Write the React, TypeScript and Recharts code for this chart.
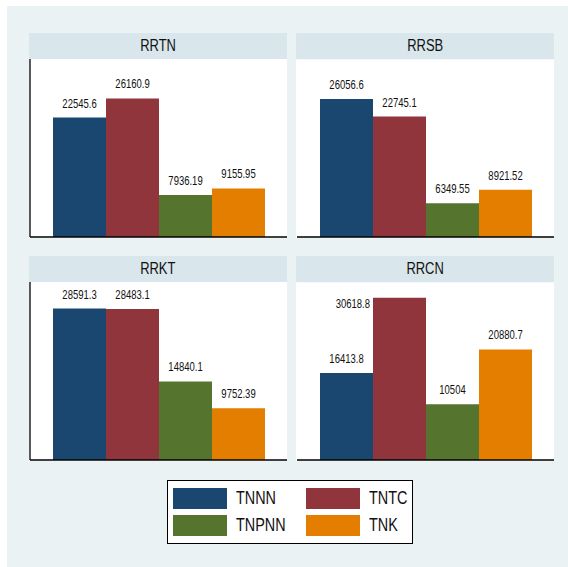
import React from "react";
import { BarChart, Bar, XAxis, YAxis, CartesianGrid, LabelList } from "recharts";

const series = ["TNNN", "TNTC", "TNPNN", "TNK"];
const colors = ["#1a476f", "#90353b", "#55752f", "#e37e00"];

const panels = ["RRTN", "RRSB", "RRKT", "RRCN"];
const rrtn = [22545.6, 26160.9, 7936.19, 9155.95];
const rrsb = [26056.6, 22745.1, 6349.55, 8921.52];
const rrkt = [28591.3, 28483.1, 14840.1, 9752.39];
const rrcn = [16413.8, 30618.8, 10504, 20880.7];
const panelValues = [rrtn, rrsb, rrkt, rrcn];

const yTicks = [0, 10000, 20000, 30000];
const yMax = 33600;

const FONT = "'Liberation Sans', Arial, sans-serif";

const PW = 258;
const PH = 179;
const HEAD = 26;

// value label, squeezed like Stata's; goes left of the bar if it would leave the plot
function renderLabel(props: any) {
  const { x, y, width, value } = props;
  const cx = x + width / 2;
  const outside = y - 10 - 10 < 0;
  const tx = outside ? x - 3 : cx;
  const ty = outside ? y + 10 : y - 10;
  return (
    <g transform={`translate(${tx},${ty}) scale(0.76,1)`}>
      <text
        x={0}
        y={0}
        textAnchor={outside ? "end" : "middle"}
        fontSize={12.5}
        fontFamily={FONT}
        fill="#111"
      >
        {String(value)}
      </text>
    </g>
  );
}

function Squeezed({ children, scale }: { children: React.ReactNode; scale: number }) {
  return (
    <span style={{ display: "inline-block", transform: `scaleX(${scale})`, transformOrigin: "center" }}>
      {children}
    </span>
  );
}

function Panel({ idx, left, top }: { idx: number; left: number; top: number }) {
  const leftCol = idx % 2 === 0;
  const row: any = { name: panels[idx] };
  series.forEach((s, i) => (row[s] = panelValues[idx][i]));
  return (
    <div style={{ position: "absolute", left, top, width: PW }}>
      <div
        style={{
          height: HEAD,
          background: "#d9e6eb",
          textAlign: "center",
          fontFamily: FONT,
          fontSize: 16,
          lineHeight: HEAD + "px",
          color: "#111",
        }}
      >
        <Squeezed scale={0.81}>{panels[idx]}</Squeezed>
      </div>
      <div style={{ background: "#fff", width: PW, height: PH }}>
        <BarChart
          width={PW}
          height={PH}
          data={[row]}
          margin={{ top: 0, right: 0, bottom: 0, left: 0 }}
          barCategoryGap={23}
          barGap={0}
        >
          {!leftCol && (
            <CartesianGrid vertical={false} stroke="#eaf2f3" strokeWidth={1.2} />
          )}
          <XAxis
            dataKey="name"
            tick={false}
            tickLine={false}
            height={1}
            axisLine={{ stroke: "#000", strokeWidth: 1.3 }}
          />
          <YAxis
            width={1}
            domain={[0, yMax]}
            ticks={yTicks}
            tick={false}
            tickLine={false}
            axisLine={leftCol ? { stroke: "#000", strokeWidth: 1.3 } : false}
          />
          {series.map((s, i) => (
            <Bar key={s} dataKey={s} fill={colors[i]} isAnimationActive={false}>
              <LabelList dataKey={s} content={renderLabel} />
            </Bar>
          ))}
        </BarChart>
      </div>
    </div>
  );
}

function Legend() {
  return (
    <div
      style={{
        position: "absolute",
        left: 167 - 7,
        top: 480 - 6,
        width: 244,
        height: 62,
        background: "#fff",
        border: "1px solid #000",
      }}
    >
      {series.map((s, i) => {
        const col = i % 2;
        const r = Math.floor(i / 2);
        const l = 5 + col * 133;
        const t = 7 + r * 27;
        return (
          <React.Fragment key={s}>
            <div
              style={{
                position: "absolute",
                left: l,
                top: t,
                width: 54,
                height: 21,
                background: colors[i],
              }}
            />
            <div
              style={{
                position: "absolute",
                left: l + 63,
                top: t,
                height: 21,
                lineHeight: "21px",
                fontFamily: FONT,
                fontSize: 18,
                color: "#111",
                transform: "scaleX(0.8)",
                transformOrigin: "left center",
                whiteSpace: "nowrap",
              }}
            >
              {s}
            </div>
          </React.Fragment>
        );
      })}
    </div>
  );
}

export default function App() {
  return (
    <>
      <style>{`body{margin:0}`}</style>
      <div
        style={{
          position: "absolute",
          left: 7,
          top: 6,
          width: 561,
          height: 561,
          background: "#eaf2f3",
        }}
      >
        <Panel idx={0} left={29 - 7} top={33 - 6} />
        <Panel idx={1} left={296 - 7} top={33 - 6} />
        <Panel idx={2} left={29 - 7} top={256 - 6} />
        <Panel idx={3} left={296 - 7} top={256 - 6} />
        <Legend />
      </div>
    </>
  );
}
